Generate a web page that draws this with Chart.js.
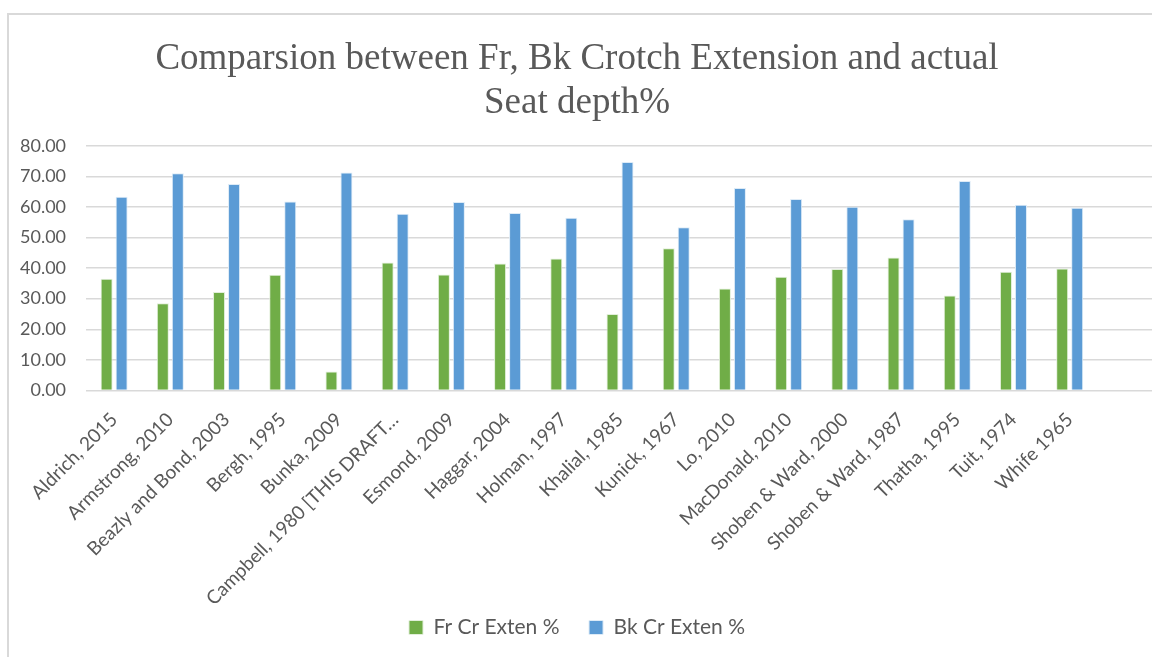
<!DOCTYPE html>
<html lang="en">
<head>
    <meta charset="UTF-8">
    <title>Comparsion between Fr, Bk Crotch Extension and actual Seat depth%</title>
</head>
<body style="margin:0;background:#fff;overflow:hidden;">
    <div style="position:absolute;left:7px;top:13px;width:1200px;height:700px;border-left:2px solid #d9d9d9;border-top:2px solid #d9d9d9;"></div>
    <div style="position:absolute;left:0;top:0;width:1160px;height:657px;">
        <canvas id="chart"></canvas>
    </div>
    <script src="https://cdn.jsdelivr.net/npm/chart.js"></script>
    <script>
        // studies on the x axis (last slot is an empty category, as in the source sheet)
        const studies = [
            'Aldrich, 2015', 'Armstrong, 2010', 'Beazly and Bond, 2003', 'Bergh, 1995',
            'Bunka, 2009', 'Campbell, 1980 [THIS DRAFT…', 'Esmond, 2009', 'Haggar, 2004',
            'Holman, 1997', 'Khalial, 1985', 'Kunick, 1967', 'Lo, 2010', 'MacDonald, 2010',
            'Shoben & Ward, 2000', 'Shoben & Ward, 1987', 'Thatha, 1995', 'Tuit, 1974',
            'Whife 1965', ''
        ];
        const frCrExten = [36.5, 28.5, 32.2, 37.8, 6.2, 41.8, 37.9, 41.5, 43.1, 25.0, 46.5, 33.3, 37.2, 39.7, 43.5, 31.0, 38.8, 39.9, null];
        const bkCrExten = [63.3, 71.0, 67.5, 61.8, 71.3, 57.8, 61.6, 58.0, 56.5, 74.7, 53.4, 66.2, 62.6, 60.1, 56.0, 68.5, 60.7, 59.7, null];
        const titleLines = ['Comparsion between Fr, Bk Crotch Extension and actual', 'Seat depth%'];

        const textColor = '#595959';
        const gridColor = '#d9d9d9';

        new Chart(document.getElementById('chart'), {
            type: 'bar',
            data: {
                labels: studies,
                datasets: [
                    {
                        label: 'Fr Cr Exten %',
                        data: frCrExten,
                        backgroundColor: '#70ad47',
                        borderColor: '#e2efda',
                        borderWidth: 1,
                        categoryPercentage: 0.534,
                        barPercentage: 0.8
                    },
                    {
                        label: 'Bk Cr Exten %',
                        data: bkCrExten,
                        backgroundColor: '#5b9bd5',
                        borderColor: '#ddebf7',
                        borderWidth: 1,
                        categoryPercentage: 0.534,
                        barPercentage: 0.8
                    }
                ]
            },
            options: {
                responsive: true,
                maintainAspectRatio: false,
                animation: false,
                layout: { padding: { left: 0, right: 6, top: 0, bottom: 9 } },
                plugins: {
                    title: {
                        display: true,
                        text: titleLines,
                        color: textColor,
                        font: { family: 'Liberation Serif', size: 37, weight: 'normal', lineHeight: 1.2 },
                        padding: { top: 37, bottom: 20 }
                    },
                    legend: {
                        position: 'bottom',
                        labels: {
                            color: textColor,
                            font: { family: 'Lato', size: 21 },
                            boxWidth: 14,
                            boxHeight: 14,
                            padding: 8,
                            // wider gap between the two entries, like the original
                            generateLabels: chart => Chart.defaults.plugins.legend.labels.generateLabels(chart)
                                .map((item, i) => i === 0 ? { ...item, text: item.text + '    ' } : item)
                        }
                    },
                    tooltip: { enabled: false }
                },
                scales: {
                    x: {
                        grid: { display: false },
                        border: { color: gridColor },
                        ticks: {
                            color: textColor,
                            font: { family: 'Lato', size: 19 },
                            padding: 10,
                            minRotation: 45,
                            maxRotation: 45,
                            autoSkip: false
                        },
                        afterFit: scale => { scale.height -= 11; }
                    },
                    y: {
                        min: 0,
                        max: 80,
                        grid: { color: gridColor, lineWidth: 1.5, drawTicks: false },
                        border: { display: false },
                        ticks: {
                            stepSize: 10,
                            color: textColor,
                            font: { family: 'Lato', size: 18 },
                            padding: 20,
                            callback: v => v.toFixed(2)
                        }
                    }
                }
            }
        });
    </script>
</body>
</html>
